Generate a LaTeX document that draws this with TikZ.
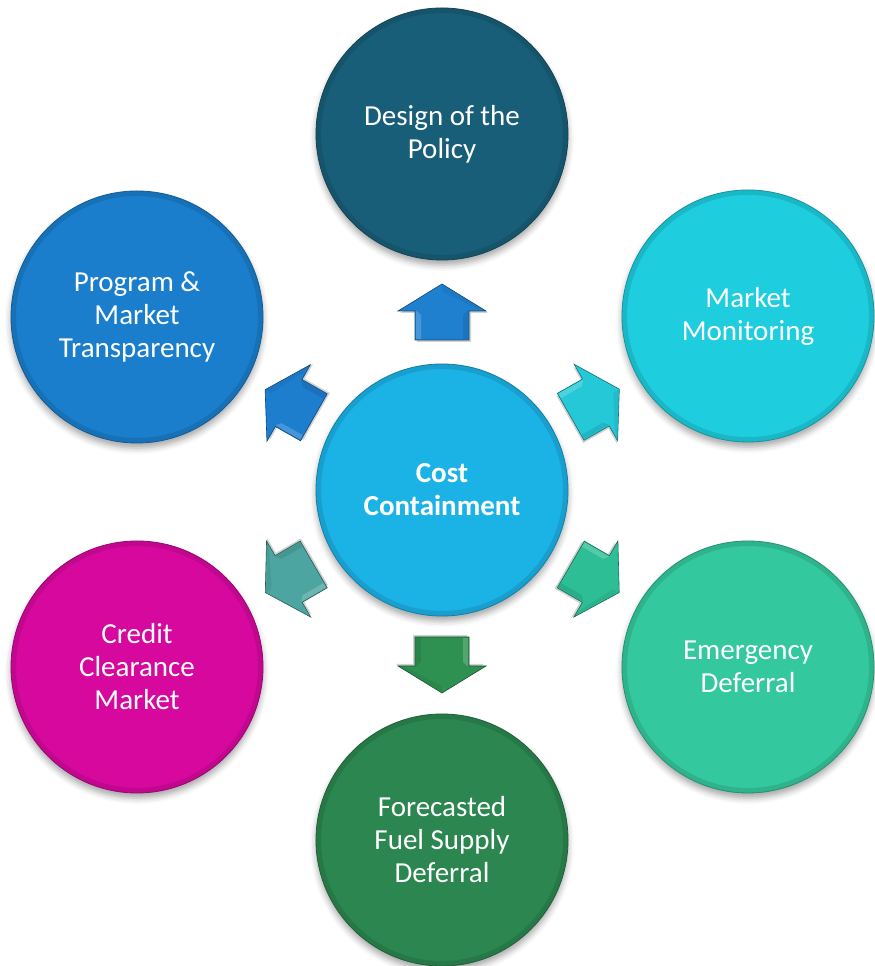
\documentclass[tikz,border=0pt]{standalone}
\usepackage{fontspec}
\setmainfont{Carlito}
\usetikzlibrary{calc,shadows.blur}

% bubble colours
\definecolor{cCenter}{RGB}{27,178,230}
\definecolor{cPolicy}{RGB}{25,94,120}
\definecolor{cMonitor}{RGB}{30,206,222}
\definecolor{cEmerg}{RGB}{52,200,158}
\definecolor{cFuel}{RGB}{44,134,80}
\definecolor{cCredit}{RGB}{214,8,158}
\definecolor{cProgram}{RGB}{26,126,204}
% arrow colours
\definecolor{aUp}{RGB}{32,128,208}
\definecolor{aMon}{RGB}{36,200,214}
\definecolor{aEm}{RGB}{46,190,150}
\definecolor{aDown}{RGB}{46,145,82}
\definecolor{aCred}{RGB}{76,165,160}
\definecolor{aProg}{RGB}{30,126,206}

\tikzset{
  bubble/.style={circle, minimum size=252pt, inner sep=0pt,
    fill=#1, draw=#1!72!black, line width=0.8pt,
    text=white, align=center,
    font=\fontsize{29}{33}\selectfont,
    blur shadow={shadow xshift=0pt, shadow yshift=-5pt,
                 shadow blur radius=6pt, shadow opacity=35},
    path picture={\draw[line width=10pt, black, opacity=0.10]
      (path picture bounding box.center) circle (126pt);}},
  arrowface/.style={fill=#1, draw=#1!55!black, line width=0.6pt},
  arrowbevel/.style={fill=#1!82!white, draw=none},
  arrowshade/.style={fill=black, opacity=0.18, draw=none},
}

% block arrow halfway between two bubbles, pointing from #1 to #2
\newcommand\radialarrow[3]{%
  \pgfmathanglebetweenpoints{\pgfpointanchor{#1}{center}}{\pgfpointanchor{#2}{center}}%
  \let\arrowangle\pgfmathresult
  \begin{scope}[shift={($(#1.center)!0.5!(#2.center)$)}, rotate=\arrowangle]
    \fill[arrowshade, shift={(-2,-2)}]
      (-28,27) -- (1,27) -- (1,44) -- (28,0) -- (1,-44) -- (1,-27) -- (-28,-27) -- cycle;
    \filldraw[arrowface=#3]
      (-28,27) -- (1,27) -- (1,44) -- (28,0) -- (1,-44) -- (1,-27) -- (-28,-27) -- cycle;
    \fill[arrowbevel=#3]
      (-27,26) -- (1.5,26) -- (-3,21) -- (-27,21) -- cycle;
    \fill[#3!80!black, opacity=0.45]
      (-27,-26) -- (1.5,-26) -- (-3,-21) -- (-27,-21) -- cycle;
    \fill[#3!80!black, opacity=0.3]
      (1.5,-42) -- (27,0) -- (21,0) -- (4,-33) -- cycle;
  \end{scope}}

\begin{document}
\begin{tikzpicture}[x=1pt, y=1pt]
  \useasboundingbox (0,0) rectangle (875,966);

  \node[bubble=cPolicy]   (policy)  at (442,832) {Design of the\\Policy};
  \node[bubble=cMonitor]  (monitor) at (748,650) {Market\\Monitoring};
  \node[bubble=cEmerg]    (emerg)   at (748,299) {Emergency\\Deferral};
  \node[bubble=cFuel]     (fuel)    at (442,126) {Forecasted\\Fuel Supply\\Deferral};
  \node[bubble=cCredit]   (credit)  at (137,299) {Credit\\Clearance\\Market};
  \node[bubble=cProgram]  (program) at (137,649) {Program \&\\Market\\Transparency};
  \node[bubble=cCenter, font=\fontsize{29}{33}\selectfont\bfseries]
                          (center)  at (442,476) {Cost\\Containment};

  \radialarrow{center}{policy}{aUp}
  \radialarrow{center}{monitor}{aMon}
  \radialarrow{center}{emerg}{aEm}
  \radialarrow{center}{fuel}{aDown}
  \radialarrow{center}{credit}{aCred}
  \radialarrow{center}{program}{aProg}
\end{tikzpicture}
\end{document}
